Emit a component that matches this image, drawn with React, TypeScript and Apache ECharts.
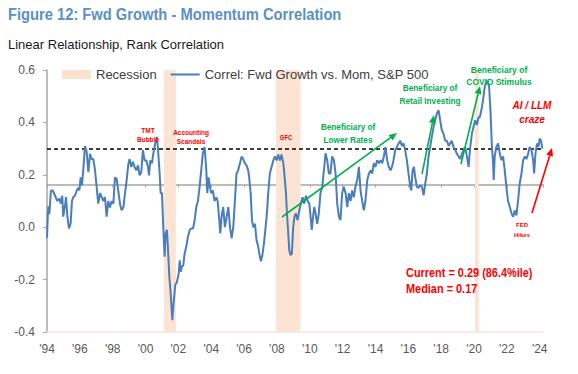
import React, { useEffect, useRef } from 'react';
import * as echarts from 'echarts';

const SANS = '"Liberation Sans", Arial, Helvetica, sans-serif';

const TITLE = 'Figure 12: Fwd Growth - Momentum Correlation';
const SUBTITLE = 'Linear Relationship, Rank Correlation';
const SERIES_NAME = 'Correl: Fwd Growth vs. Mom, S&P 500';
const RECESSION_NAME = 'Recession';

const years = [
  1994.00, 1994.05, 1994.09, 1994.14, 1994.24, 1994.35, 1994.49, 1994.63, 1994.75, 1994.83, 1994.93, 1994.99,
  1995.10, 1995.16, 1995.24, 1995.34, 1995.44, 1995.52, 1995.60, 1995.70, 1995.81, 1995.91, 1995.97,
  1996.05, 1996.13, 1996.21, 1996.31, 1996.41, 1996.52, 1996.62, 1996.72, 1996.82, 1996.92,
  1997.02, 1997.12, 1997.23, 1997.33, 1997.43, 1997.53, 1997.63, 1997.73, 1997.83, 1997.94,
  1998.04, 1998.14, 1998.24, 1998.34, 1998.44, 1998.54, 1998.65, 1998.75, 1998.85, 1998.95,
  1999.03, 1999.13, 1999.23, 1999.33, 1999.44, 1999.54, 1999.64, 1999.74, 1999.84, 1999.94,
  2000.05, 2000.15, 2000.21, 2000.29, 2000.39, 2000.49, 2000.59, 2000.69, 2000.75, 2000.86, 2000.92,
  2001.00, 2001.08, 2001.16, 2001.22, 2001.30, 2001.36, 2001.45, 2001.53, 2001.63, 2001.71, 2001.81, 2001.91,
  2002.02, 2002.08, 2002.14, 2002.22, 2002.30, 2002.38, 2002.48, 2002.58, 2002.69, 2002.79, 2002.89, 2002.99,
  2003.09, 2003.19, 2003.29, 2003.39, 2003.49, 2003.60, 2003.70, 2003.76, 2003.84, 2003.92,
  2004.00, 2004.10, 2004.20, 2004.31, 2004.39, 2004.49, 2004.55, 2004.63, 2004.73, 2004.83, 2004.94,
  2005.04, 2005.14, 2005.24, 2005.34, 2005.44, 2005.54, 2005.64, 2005.75, 2005.85, 2005.95,
  2006.05, 2006.15, 2006.25, 2006.31, 2006.40, 2006.48, 2006.56, 2006.66, 2006.76, 2006.86, 2006.96,
  2007.03, 2007.13, 2007.23, 2007.33, 2007.39, 2007.47, 2007.57, 2007.67, 2007.78, 2007.88, 2007.98,
  2008.08, 2008.18, 2008.28, 2008.39, 2008.47, 2008.55, 2008.61, 2008.69, 2008.75, 2008.83, 2008.91, 2008.99,
  2009.07, 2009.15, 2009.26, 2009.36, 2009.46, 2009.56, 2009.66, 2009.77, 2009.87, 2009.97,
  2010.05, 2010.12, 2010.20, 2010.27, 2010.35, 2010.45, 2010.55, 2010.65, 2010.76, 2010.86, 2010.96,
  2011.06, 2011.16, 2011.26, 2011.36, 2011.47, 2011.57, 2011.67, 2011.77, 2011.87, 2011.97,
  2012.07, 2012.18, 2012.28, 2012.38, 2012.48, 2012.58, 2012.68, 2012.78, 2012.89, 2012.99,
  2013.09, 2013.19, 2013.29, 2013.39, 2013.50, 2013.60, 2013.70, 2013.80, 2013.90,
  2014.00, 2014.10, 2014.21, 2014.31, 2014.41, 2014.51, 2014.61, 2014.71, 2014.81, 2014.92,
  2015.00, 2015.10, 2015.20, 2015.30, 2015.41, 2015.51, 2015.61, 2015.71, 2015.81, 2015.91,
  2016.01, 2016.12, 2016.18, 2016.26, 2016.34, 2016.42, 2016.52, 2016.62, 2016.72, 2016.83, 2016.93,
  2017.03, 2017.13, 2017.23, 2017.33, 2017.43, 2017.54, 2017.64, 2017.74, 2017.84, 2017.94,
  2018.04, 2018.14, 2018.25, 2018.35, 2018.45, 2018.55, 2018.65, 2018.75, 2018.86, 2018.96,
  2019.06, 2019.16, 2019.26, 2019.36, 2019.46, 2019.57, 2019.67, 2019.77, 2019.87, 2019.97,
  2020.07, 2020.17, 2020.28, 2020.35, 2020.45, 2020.55, 2020.65, 2020.76, 2020.86, 2020.92,
  2021.00, 2021.08, 2021.16, 2021.20, 2021.26, 2021.36, 2021.47, 2021.57, 2021.67, 2021.77, 2021.87, 2021.97,
  2022.07, 2022.18, 2022.28, 2022.38, 2022.48, 2022.58, 2022.68, 2022.78, 2022.89, 2022.99,
  2023.09, 2023.19, 2023.29, 2023.39, 2023.50, 2023.60, 2023.66, 2023.74, 2023.84, 2023.92,
  2024.00, 2024.08, 2024.16,
];

const values = [
  -0.04, 0.05, 0.08, 0.05, 0.14, 0.14, 0.12, 0.10, 0.11, 0.09, 0.12, 0.04,
  0.085, 0.115, 0.04, -0.005, 0.015, 0.10, 0.115, 0.12, 0.14, 0.15, 0.14,
  0.19, 0.16, 0.22, 0.31, 0.29, 0.21, 0.28, 0.26, 0.26, 0.22,
  0.155, 0.09, 0.13, 0.115, 0.10, 0.115, 0.04, 0.10, 0.075, 0.10,
  0.09, 0.19, 0.185, 0.14, 0.09, 0.065, 0.075, 0.13, 0.18, 0.24,
  0.26, 0.23, 0.25, 0.23, 0.217, 0.236, 0.198, 0.21, 0.294, 0.255,
  0.255, 0.23, 0.198, 0.255, 0.244, 0.287, 0.32, 0.345, 0.306, 0.204, 0.13,
  0.13, 0.0, -0.113, -0.024, -0.01, -0.075, -0.19, -0.253, -0.355, -0.29, -0.22, -0.21,
  -0.177, -0.126, -0.17, -0.15, -0.145, -0.10, -0.075, -0.037, -0.01, -0.005, -0.005, 0.027,
  0.077, 0.10, 0.154, 0.217, 0.282, 0.306, 0.217, 0.13, 0.19, 0.154,
  0.13, 0.14, 0.10, 0.114, 0.10, 0.027, -0.024, 0.04, 0.077, 0.0, 0.04,
  0.077, 0.0, -0.043, 0.0, 0.10, 0.205, 0.217, 0.244, 0.27, 0.26,
  0.244, 0.236, 0.217, 0.19, 0.13, 0.027, 0.0, 0.013, -0.05, -0.075, -0.113,
  -0.13, -0.10, -0.05, 0.013, 0.053, 0.13, 0.205, 0.23, 0.255, 0.27, 0.255,
  0.277, 0.255, 0.277, 0.244, 0.19, 0.13, 0.053, -0.024, -0.088, -0.107, -0.10, 0.0,
  0.04, 0.053, 0.027, 0.064, 0.09, 0.114, 0.09, 0.12, 0.10, 0.09,
  0.04, -0.01, 0.04, 0.077, 0.053, 0.013, 0.053, 0.13, 0.154, 0.217, 0.282,
  0.256, 0.205, 0.205, 0.27, 0.256, 0.205, 0.09, 0.04, 0.027, 0.13,
  0.154, 0.13, 0.077, 0.13, 0.10, 0.14, 0.114, 0.154, 0.18, 0.23,
  0.14, 0.10, 0.064, 0.10, 0.18, 0.205, 0.217, 0.205, 0.244,
  0.23, 0.256, 0.244, 0.256, 0.244, 0.27, 0.306, 0.256, 0.23, 0.217,
  0.23, 0.256, 0.294, 0.306, 0.32, 0.33, 0.31, 0.32, 0.294, 0.256,
  0.205, 0.154, 0.14, 0.217, 0.23, 0.19, 0.154, 0.15, 0.16, 0.154, 0.122,
  0.166, 0.205, 0.27, 0.306, 0.345, 0.383, 0.408, 0.434, 0.447, 0.408,
  0.37, 0.357, 0.33, 0.33, 0.31, 0.32, 0.33, 0.306, 0.294, 0.28,
  0.27, 0.26, 0.28, 0.294, 0.306, 0.27, 0.23, 0.306, 0.357, 0.383,
  0.408, 0.39, 0.42, 0.42, 0.447, 0.485, 0.535, 0.56, 0.548, 0.535,
  0.447, 0.32, 0.244, 0.18, 0.27, 0.306, 0.32, 0.28, 0.256, 0.27, 0.217, 0.154,
  0.10, 0.077, 0.053, 0.04, 0.064, 0.045, 0.10, 0.166, 0.205, 0.256,
  0.27, 0.26, 0.28, 0.306, 0.294, 0.256, 0.205, 0.28, 0.32, 0.306,
  0.338, 0.33, 0.30,
];

const recessionStarts = [2001.12, 2007.94, 2020.05];
const recessionEnds = [2001.85, 2009.44, 2020.29];

const X_MIN = 1994;
const X_MAX = 2024.2;
const X_STEP = 2;
const Y_MIN = -0.4;
const Y_MAX = 0.6;
const Y_STEP = 0.2;
const THRESHOLD = 0.30;
const MEDIAN = 0.163;

const RED = '#FF0000';
const GREEN = '#00B050';
const BLUE = '#4A7EBB';

const notes = [
  { text: 'TMT\nBubble', x: 148, y: 135, color: RED, size: 6.5, lh: 9, sx: 1, style: 'normal' },
  { text: 'Accounting\nScandals', x: 191, y: 136.5, color: RED, size: 6.5, lh: 9, sx: 1, style: 'normal' },
  { text: 'GFC', x: 286, y: 137, color: RED, size: 6.5, lh: 9, sx: 0.9, style: 'normal' },
  { text: 'Beneficiary of\nLower Rates', x: 348, y: 133.5, color: GREEN, size: 9, lh: 13, sx: 0.92, style: 'normal' },
  { text: 'Beneficiary of\nRetail Investing', x: 430, y: 94.5, color: GREEN, size: 9, lh: 13, sx: 0.92, style: 'normal' },
  { text: 'Beneficiary of\nCOVID Stimulus', x: 499, y: 76, color: GREEN, size: 9, lh: 12, sx: 0.95, style: 'normal' },
  { text: 'AI / LLM\ncraze', x: 532, y: 112, color: RED, size: 10, lh: 14, sx: 1, style: 'italic' },
  { text: 'FED\nHikes', x: 522, y: 230, color: RED, size: 6, lh: 10, sx: 1, style: 'normal' },
];

const arrows = [
  { x1: 282, y1: 217, x2: 397, y2: 133, color: GREEN },
  { x1: 422, y1: 174, x2: 434, y2: 115, color: GREEN },
  { x1: 461, y1: 164, x2: 480, y2: 86, color: GREEN },
  { x1: 532, y1: 213, x2: 552, y2: 148, color: RED },
];

function arrowElements(a: { x1: number; y1: number; x2: number; y2: number; color: string }) {
  const ang = Math.atan2(a.y2 - a.y1, a.x2 - a.x1);
  const L = 8;
  const W = 3.5;
  const c = Math.cos(ang);
  const s = Math.sin(ang);
  const bx = a.x2 - L * c;
  const by = a.y2 - L * s;
  return [
    {
      type: 'line',
      shape: { x1: a.x1, y1: a.y1, x2: bx, y2: by },
      style: { stroke: a.color, lineWidth: 1.6 },
      z: 100,
    },
    {
      type: 'polygon',
      shape: {
        points: [
          [a.x2, a.y2],
          [bx + W * s, by - W * c],
          [bx - W * s, by + W * c],
        ],
      },
      style: { fill: a.color },
      z: 100,
    },
  ];
}

export default function App() {
  const ref = useRef<HTMLDivElement>(null);

  useEffect(() => {
    if (!ref.current) return;
    const chart = echarts.init(ref.current, undefined, { renderer: 'svg' });
    const lineData = years.map((y, i) => [y, values[i]]);
    const graphics: any[] = [
      {
        type: 'text',
        x: 8,
        y: 14,
        scaleX: 0.92,
        style: {
          text: TITLE,
          fill: '#5B8FC9',
          fontFamily: SANS,
          fontSize: 16,
          fontWeight: 'bold',
          align: 'left',
          verticalAlign: 'middle',
        },
      },
      {
        type: 'text',
        x: 8,
        y: 44,
        style: {
          text: SUBTITLE,
          fill: '#1A1A1A',
          fontFamily: SANS,
          fontSize: 13,
          align: 'left',
          verticalAlign: 'middle',
        },
      },
    ];
    notes.forEach((n) => {
      graphics.push({
        type: 'text',
        x: n.x,
        y: n.y,
        scaleX: n.sx,
        z: 100,
        style: {
          text: n.text,
          fill: n.color,
          fontFamily: SANS,
          fontSize: n.size,
          fontWeight: 'bold',
          fontStyle: n.style,
          lineHeight: n.lh,
          align: 'center',
          verticalAlign: 'middle',
        },
      });
    });
    arrows.forEach((a) => graphics.push(...arrowElements(a)));
    graphics.push({
      type: 'text',
      x: 406,
      y: 281,
      scaleX: 0.91,
      z: 100,
      style: {
        text: 'Current = 0.29 (86.4%ile)\nMedian = 0.17',
        fill: RED,
        fontFamily: SANS,
        fontSize: 12,
        fontWeight: 'bold',
        lineHeight: 16,
        align: 'left',
        verticalAlign: 'middle',
      },
    });

    chart.setOption({
      animation: false,
      legend: {
        left: 62,
        top: 68,
        padding: 0,
        itemWidth: 29,
        itemHeight: 9,
        itemGap: 13,
        textStyle: { fontFamily: SANS, fontSize: 13, color: '#404040' },
        data: [
          { name: RECESSION_NAME, icon: 'rect' },
          { name: SERIES_NAME, itemStyle: { opacity: 0 } },
        ],
      },
      grid: { left: 47, right: 35, top: 70, bottom: 42 },
      xAxis: [
        {
          type: 'value',
          min: X_MIN,
          max: X_MAX,
          interval: X_STEP,
          axisLine: { show: true, onZero: false, lineStyle: { color: '#F7E6DA', width: 1.5 } },
          axisTick: { show: false },
          splitLine: { show: false },
          axisLabel: {
            color: '#595959',
            fontFamily: SANS,
            fontSize: 12,
            margin: 11,
            showMaxLabel: false,
            formatter: (v: number) =>
              Math.abs(v - Math.round(v)) < 1e-6 && Math.round(v) % 2 === 0
                ? "'" + String(Math.round(v)).slice(2)
                : '',
          },
        },
        {
          type: 'value',
          min: X_MIN,
          max: X_MAX,
          interval: X_STEP,
          position: 'bottom',
          axisLine: { show: true, onZero: true, onZeroAxisIndex: 1, lineStyle: { color: '#A6A6A6', width: 1.5 } },
          axisTick: { show: true, length: 3, lineStyle: { color: '#A6A6A6' } },
          axisLabel: { show: false },
          splitLine: { show: false },
        },
      ],
      yAxis: [
        {
          type: 'value',
          min: Y_MIN,
          max: Y_MAX,
          interval: Y_STEP,
          axisLine: { show: true, lineStyle: { color: '#A6A6A6', width: 1.5 } },
          axisTick: { show: true, length: 4, lineStyle: { color: '#A6A6A6' } },
          splitLine: { show: false },
          axisLabel: {
            color: '#595959',
            fontFamily: SANS,
            fontSize: 12,
            margin: 12,
            formatter: (v: number) => v.toFixed(1),
          },
        },
        {
          type: 'value',
          min: Y_MIN - MEDIAN,
          max: Y_MAX - MEDIAN,
          show: false,
        },
      ],
      series: [
        {
          name: RECESSION_NAME,
          type: 'line',
          data: [],
          color: '#FCE1CF',
          itemStyle: { color: '#FCE1CF' },
          lineStyle: { color: '#FCE1CF' },
          symbol: 'none',
          markArea: {
            silent: true,
            itemStyle: { color: '#FCE4D4' },
            data: recessionStarts.map((s, i) => [{ xAxis: s }, { xAxis: recessionEnds[i] }]),
          },
        },
        {
          name: SERIES_NAME,
          type: 'line',
          data: lineData,
          color: BLUE,
          showSymbol: false,
          symbol: 'none',
          lineStyle: { color: BLUE, width: 2 },
          z: 5,
          markLine: {
            silent: true,
            symbol: ['none', 'none'],
            label: { show: false },
            lineStyle: { color: '#000000', type: [4, 3], width: 1.5 },
            data: [{ yAxis: THRESHOLD }],
          },
        },
      ],
      graphic: graphics,
    });
    return () => chart.dispose();
  }, []);

  return <div ref={ref} style={{ position: 'fixed', left: 0, top: 0, width: 578, height: 374, background: '#fff' }} />;
}
